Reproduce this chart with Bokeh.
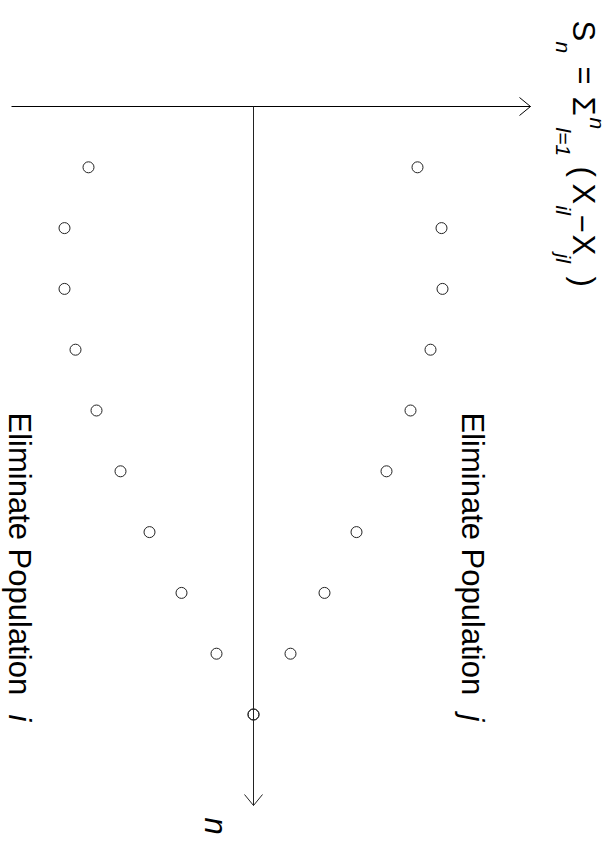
import math
from bokeh.plotting import figure
from bokeh.models import Range1d, Label
from bokeh.embed import file_html
from bokeh.resources import INLINE

# ---- data ----
n_steps = [1, 2, 3, 4, 5, 6, 7, 8, 9, 10]
upper_boundary = [16.4, 18.8, 18.9, 17.7, 15.7, 13.3, 10.3, 7.1, 3.7, 0.0]
lower_boundary = [-16.5, -18.9, -18.9, -17.8, -15.7, -13.3, -10.4, -7.2, -3.7, 0.0]
axis_label_n = "n"
region_label_lower = "Eliminate Population"
region_label_lower_idx = "i"
region_label_upper = "Eliminate Population"
region_label_upper_idx = "j"

# ---- layout ----
W, H = 613, 840
PAGE_OFF = 0
ORIGIN_PX = (253, 106)      # page position of S=0, n=0
PX_PER_S = 10.0
PX_PER_N = 60.8
FONT = "Liberation Sans"
MAIN = 31
SMALL = 21

def to_s(px):
    return (px - ORIGIN_PX[0]) / PX_PER_S

def to_n(py):
    return (py - ORIGIN_PX[1]) / PX_PER_N

x0 = to_s(PAGE_OFF)
x1 = to_s(PAGE_OFF + W)
y_top = to_n(PAGE_OFF)
y_bot = to_n(PAGE_OFF + H)

p = figure(width=W, height=H, output_backend="svg", toolbar_location=None,
           x_range=Range1d(x0, x1), y_range=Range1d(y_bot, y_top),
           x_axis_location=None, y_axis_location=None, min_border=0)
p.grid.visible = False
p.outline_line_color = None
p.background_fill_color = "white"

# axes (drawn as lines, with open arrow heads)
p.line([to_s(11), to_s(530)], [0, 0], line_color="black", line_width=1)
p.line([to_s(519), to_s(530), to_s(519)], [to_n(97), 0, to_n(115)],
       line_color="black", line_width=1)
p.line([0, 0], [0, to_n(805)], line_color="#222222", line_width=1)
p.line([to_s(244), 0, to_s(262)], [to_n(794), to_n(805), to_n(794)],
       line_color="#222222", line_width=1)

# boundary points
p.scatter(lower_boundary, n_steps, marker="circle", size=11,
          fill_color=None, line_color="#222222", line_width=1)
p.scatter(upper_boundary, n_steps, marker="circle", size=11,
          fill_color=None, line_color="#222222", line_width=1)

def add_label(text, px, py, size=MAIN, italic=False):
    # px = page x of the (rotated) baseline; compensate text-box descent
    shift = 0.31 * size
    p.add_layout(Label(x=to_s(px + shift), y=to_n(py), text=text, angle=-math.pi / 2,
                       text_font=FONT, text_font_size=f"{size}px",
                       text_font_style="italic" if italic else "normal",
                       text_align="left", text_baseline="alphabetic",
                       text_color="black"))

# region labels
add_label(region_label_lower, 9, 412)
add_label(region_label_lower_idx, 9, 714, italic=True)
add_label(region_label_upper, 462, 412)
add_label(region_label_upper_idx, 462, 714, italic=True)

# n axis label
add_label(axis_label_n, 205, 817, italic=True)

# S_n label pieces
add_label("S", 573, 20)
add_label("n", 556, 41, SMALL, True)
add_label("=", 574, 66)
add_label("\u03a3", 573, 96)
add_label("n", 590, 117, SMALL, True)
add_label("l=1", 556, 127, SMALL, True)
add_label("(", 573, 166)
add_label("X", 573, 183)
add_label("il", 556, 205, SMALL, True)
add_label("\u2212", 573, 214)
add_label("X", 573, 234)
add_label("jl", 556, 253, SMALL, True)
add_label(")", 573, 276)

open("out.html", "w").write(file_html(p, INLINE))
